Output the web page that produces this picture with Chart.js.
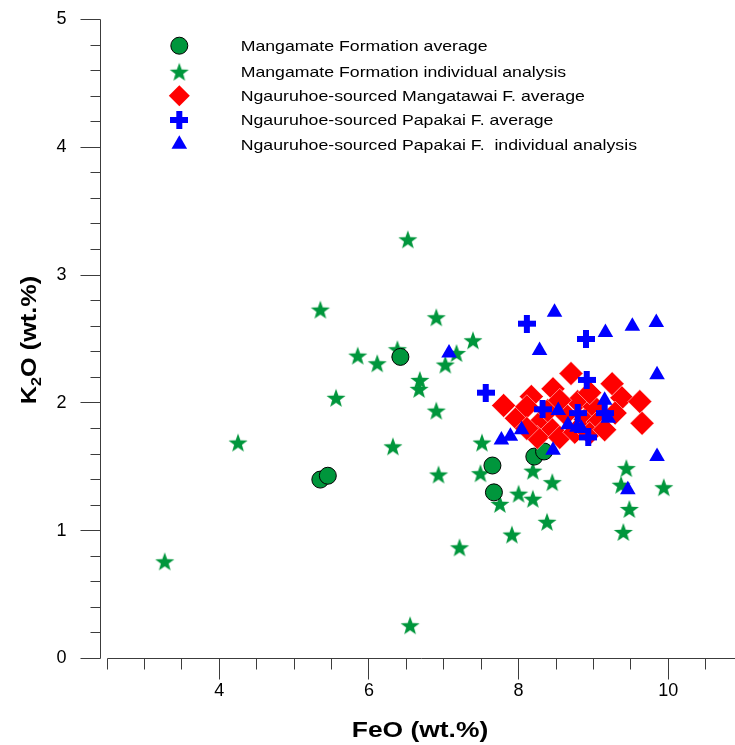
<!DOCTYPE html>
<html>
<head>
<meta charset="utf-8">
<script src="https://cdn.jsdelivr.net/npm/chart.js@4/dist/chart.umd.min.js"></script>
<style>
  html, body { margin: 0; padding: 0; background: #ffffff; }
  #wrap { width: 735px; height: 745px; position: relative; }
</style>
</head>
<body>
<div id="wrap"><canvas id="plot" width="735" height="745"></canvas></div>
<script>
// FeO vs K2O (wt.%) glass compositions

// Mangamate Formation average
const mangamateAvgFeO = [5.35, 5.45, 6.42, 7.65, 7.67, 8.21, 8.34];
const mangamateAvgK2O = [1.40, 1.43, 2.36, 1.51, 1.30, 1.58, 1.62];

// Mangamate Formation individual analysis
const mangamateIndFeO = [3.27, 4.25, 5.56, 5.85, 6.11, 5.35, 6.52, 6.90, 6.38, 6.68, 6.67, 7.39, 7.17, 7.02, 6.90, 6.32, 6.93,
                         6.55, 7.51, 7.49, 8.19, 8.45, 8.00, 8.19, 7.75, 8.38, 7.91, 7.21, 9.44, 9.37, 9.94, 9.48, 9.40];
const mangamateIndK2O = [0.76, 1.69, 2.04, 2.37, 2.31, 2.73, 3.28, 2.67, 2.42, 2.18, 2.11, 2.49, 2.39, 2.30, 1.94, 1.66, 1.44,
                         0.26, 1.69, 1.45, 1.47, 1.38, 1.29, 1.25, 1.21, 1.07, 0.97, 0.87, 1.49, 1.36, 1.34, 1.17, 0.99];

// Ngauruhoe-sourced Mangatawai F. average
const mangatawaiAvgFeO = [8.70, 7.80, 8.17, 8.46, 9.25, 9.38, 9.62, 9.65, 7.97, 8.11, 8.29, 8.45, 8.25, 8.55,
                          8.63, 8.79, 8.89, 9.01, 9.06, 8.75, 8.95, 8.39, 8.55, 8.95, 9.15, 8.11, 9.29];
const mangatawaiAvgK2O = [2.23, 1.98, 2.05, 2.11, 2.15, 2.04, 2.01, 1.84, 1.88, 1.97, 1.85, 1.79, 1.73, 1.73,
                          1.91, 2.01, 1.87, 1.97, 1.85, 1.77, 1.76, 1.94, 2.02, 2.08, 1.79, 1.80, 1.92];

// Ngauruhoe-sourced Papakai F. average
const papakaiAvgFeO = [8.11, 8.90, 7.56, 8.91, 8.32, 8.79, 9.15, 8.93];
const papakaiAvgK2O = [2.62, 2.50, 2.08, 2.18, 1.95, 1.92, 1.92, 1.73];

// Ngauruhoe-sourced Papakai F. individual analysis
const papakaiIndFeO = [8.48, 9.16, 9.52, 9.84, 8.28, 9.85, 8.53, 9.15, 9.20, 8.66, 8.78, 8.84, 8.04, 7.77, 7.89, 8.46, 9.85, 9.46, 7.07];
const papakaiIndK2O = [2.71, 2.55, 2.60, 2.63, 2.41, 2.22, 1.94, 2.02, 1.88, 1.83, 1.81, 1.80, 1.79, 1.71, 1.74, 1.63, 1.58, 1.32, 2.39];

// Axis ticks
const xLabelTicks = [4, 6, 8, 10];
const yLabelTicks = [0, 1, 2, 3, 4, 5];

const legendLabels = [
  'Mangamate Formation average',
  'Mangamate Formation individual analysis',
  'Ngauruhoe-sourced Mangatawai F. average',
  'Ngauruhoe-sourced Papakai F. average',
  'Ngauruhoe-sourced Papakai F.  individual analysis'
];

const GREEN = '#00963c';
const RED = '#ff0000';
const BLUE = '#0000ff';

function pairs(xs, ys) { return xs.map((v, i) => ({ x: v, y: ys[i] })); }

// filled five-pointed star marker
function makeStar(color, R, r) {
  const s = Math.ceil(R * 2 + 2);
  const c = document.createElement('canvas');
  c.width = s; c.height = s;
  const g = c.getContext('2d');
  g.fillStyle = color;
  g.beginPath();
  for (let i = 0; i < 10; i++) {
    const rad = (i % 2) ? r : R;
    const a = -Math.PI / 2 + i * Math.PI / 5;
    const px = s / 2 + rad * Math.cos(a), py = s / 2 + 1 + rad * Math.sin(a);
    if (i) g.lineTo(px, py); else g.moveTo(px, py);
  }
  g.closePath();
  g.fill();
  return c;
}

// heavy plus marker
function makePlus(color, L, t) {
  const c = document.createElement('canvas');
  c.width = L; c.height = L;
  const g = c.getContext('2d');
  g.fillStyle = color;
  g.fillRect((L - t) / 2, 0, t, L);
  g.fillRect(0, (L - t) / 2, L, t);
  return c;
}

const starImg = makeStar(GREEN, 10, 4.1);
const plusImg = makePlus(BLUE, 18, 6);

const datasets = [
  { label: legendLabels[0], data: pairs(mangamateAvgFeO, mangamateAvgK2O), pointStyle: 'circle', pointRadius: 8.5,
    backgroundColor: GREEN, borderColor: '#000000', borderWidth: 1, order: 4 },
  { label: legendLabels[1], data: pairs(mangamateIndFeO, mangamateIndK2O), pointStyle: starImg, pointRadius: 10,
    backgroundColor: GREEN, borderColor: GREEN, borderWidth: 0, order: 5 },
  { label: legendLabels[2], data: pairs(mangatawaiAvgFeO, mangatawaiAvgK2O), pointStyle: 'rectRot', pointRadius: 12,
    backgroundColor: RED, borderColor: '#ffffff', borderWidth: 0.5, order: 3 },
  { label: legendLabels[3], data: pairs(papakaiAvgFeO, papakaiAvgK2O), pointStyle: plusImg, pointRadius: 9,
    backgroundColor: BLUE, borderColor: BLUE, borderWidth: 0, order: 2 },
  { label: legendLabels[4], data: pairs(papakaiIndFeO, papakaiIndK2O), pointStyle: 'triangle', pointRadius: 9,
    backgroundColor: BLUE, borderColor: BLUE, borderWidth: 0, order: 1 }
];

const TEXT_SX = 1.22;   // wide lettering

function wideText(ctx, text, x, y, font, align, sx) {
  ctx.save();
  ctx.translate(x, y);
  ctx.scale(sx || TEXT_SX, 1);
  ctx.font = font;
  ctx.textAlign = align || 'left';
  ctx.textBaseline = 'alphabetic';
  ctx.fillStyle = '#000000';
  ctx.fillText(text, 0, 0);
  ctx.restore();
}

// keep the plot box fixed regardless of how far the tick labels reach
function fixBox(size) {
  return s => {
    if (s.isHorizontal()) s.height = size; else s.width = size;
    s.paddingTop = 0; s.paddingBottom = 0; s.paddingLeft = 0; s.paddingRight = 0;
  };
}

// axis lines with major and minor tick marks
const axisFrame = {
  id: 'axisFrame',
  beforeDatasetsDraw(chart) {
    const { ctx, scales: { x, y } } = chart;
    const crisp = v => Math.round(v - 0.5) + 0.5;
    ctx.save();
    ctx.strokeStyle = '#3c3c3c';
    ctx.lineWidth = 1;
    ctx.beginPath();
    const ax = crisp(x.left);
    ctx.moveTo(ax, crisp(y.getPixelForValue(5)));
    ctx.lineTo(ax, crisp(y.getPixelForValue(0)));
    for (let k = 0; k <= 25; k++) {
      const v = k * 0.2;
      const py = crisp(y.getPixelForValue(v));
      const len = (k % 5 === 0) ? 20 : 10;
      ctx.moveTo(ax - len, py);
      ctx.lineTo(ax, py);
    }
    const by = crisp(y.getPixelForValue(0));
    ctx.moveTo(crisp(x.getPixelForValue(2.5)), by);
    ctx.lineTo(chart.width, by);
    for (let k = 5; k <= 21; k++) {
      const v = k * 0.5;
      const px = crisp(x.getPixelForValue(v));
      const len = (v % 2 === 0) ? 21 : 11;
      ctx.moveTo(px, by);
      ctx.lineTo(px, by + len);
    }
    ctx.stroke();
    ctx.restore();
  },
  afterDraw(chart) {
    const { ctx } = chart;
    // x title
    wideText(ctx, 'FeO (wt.%)', 420, 737, 'bold 22px "Liberation Sans", Arial, sans-serif', 'center', 1.2);

    // y title with subscript
    ctx.save();
    ctx.translate(36, 340);
    ctx.rotate(-Math.PI / 2);
    ctx.scale(1.15, 1);
    ctx.fillStyle = '#000000';
    ctx.textBaseline = 'alphabetic';
    const big = 'bold 22px "Liberation Sans", Arial, sans-serif';
    const small = 'bold 14px "Liberation Sans", Arial, sans-serif';
    ctx.font = big; const wK = ctx.measureText('K').width; const wRest = ctx.measureText('O (wt.%)').width;
    ctx.font = small; const w2 = ctx.measureText('2').width;
    let cx = -(wK + w2 + wRest) / 2;
    ctx.font = big; ctx.fillText('K', cx, 0); cx += wK;
    ctx.font = small; ctx.fillText('2', cx, 5); cx += w2;
    ctx.font = big; ctx.fillText('O (wt.%)', cx, 0);
    ctx.restore();

    // legend
    const rows = [45.7, 71.7, 95.7, 120, 144.3];
    const mx = 179.3, tx = 240.7;
    chart.data.datasets.forEach((ds, i) => {
      const yy = rows[i];
      ctx.save();
      ctx.fillStyle = ds.backgroundColor;
      ctx.strokeStyle = ds.borderColor;
      ctx.lineWidth = ds.borderWidth;
      const r = ds.pointStyle === 'rectRot' ? 10.5 : ds.pointRadius;
      Chart.helpers.drawPoint(ctx, { pointStyle: ds.pointStyle, radius: r, rotation: 0,
        borderWidth: ds.pointStyle === 'circle' ? 1 : 0 }, mx, yy);
      ctx.restore();
      wideText(ctx, ds.label, tx, yy + 5.2, '14.5px "Liberation Sans", Arial, sans-serif', 'left');
    });
  }
};

new Chart(document.getElementById('plot'), {
  type: 'scatter',
  data: { datasets },
  options: {
    responsive: false,
    animation: false,
    devicePixelRatio: 1,
    events: [],
    layout: { autoPadding: false, padding: { top: 19.5, right: 0, bottom: 0, left: 0 } },
    plugins: { legend: { display: false }, tooltip: { enabled: false } },
    scales: {
      x: {
        type: 'linear',
        min: 2.412,
        max: 10.892,
        afterBuildTicks: s => { s.ticks = xLabelTicks.map(v => ({ value: v })); },
        afterFit: fixBox(86.5),
        grid: { display: false, drawTicks: false },
        border: { display: false },
        ticks: { color: '#000000', padding: 22, autoSkip: false, maxRotation: 0,
                 font: { family: '"Liberation Sans", Arial, sans-serif', size: 18 } }
      },
      y: {
        type: 'linear',
        min: 0,
        max: 5,
        afterBuildTicks: s => { s.ticks = yLabelTicks.map(v => ({ value: v })); },
        afterFit: fixBox(100.5),
        grid: { display: false, drawTicks: false },
        border: { display: false },
        ticks: { color: '#000000', padding: 34,
                 font: { family: '"Liberation Sans", Arial, sans-serif', size: 18 } }
      }
    }
  },
  plugins: [axisFrame]
});
</script>
</body>
</html>
